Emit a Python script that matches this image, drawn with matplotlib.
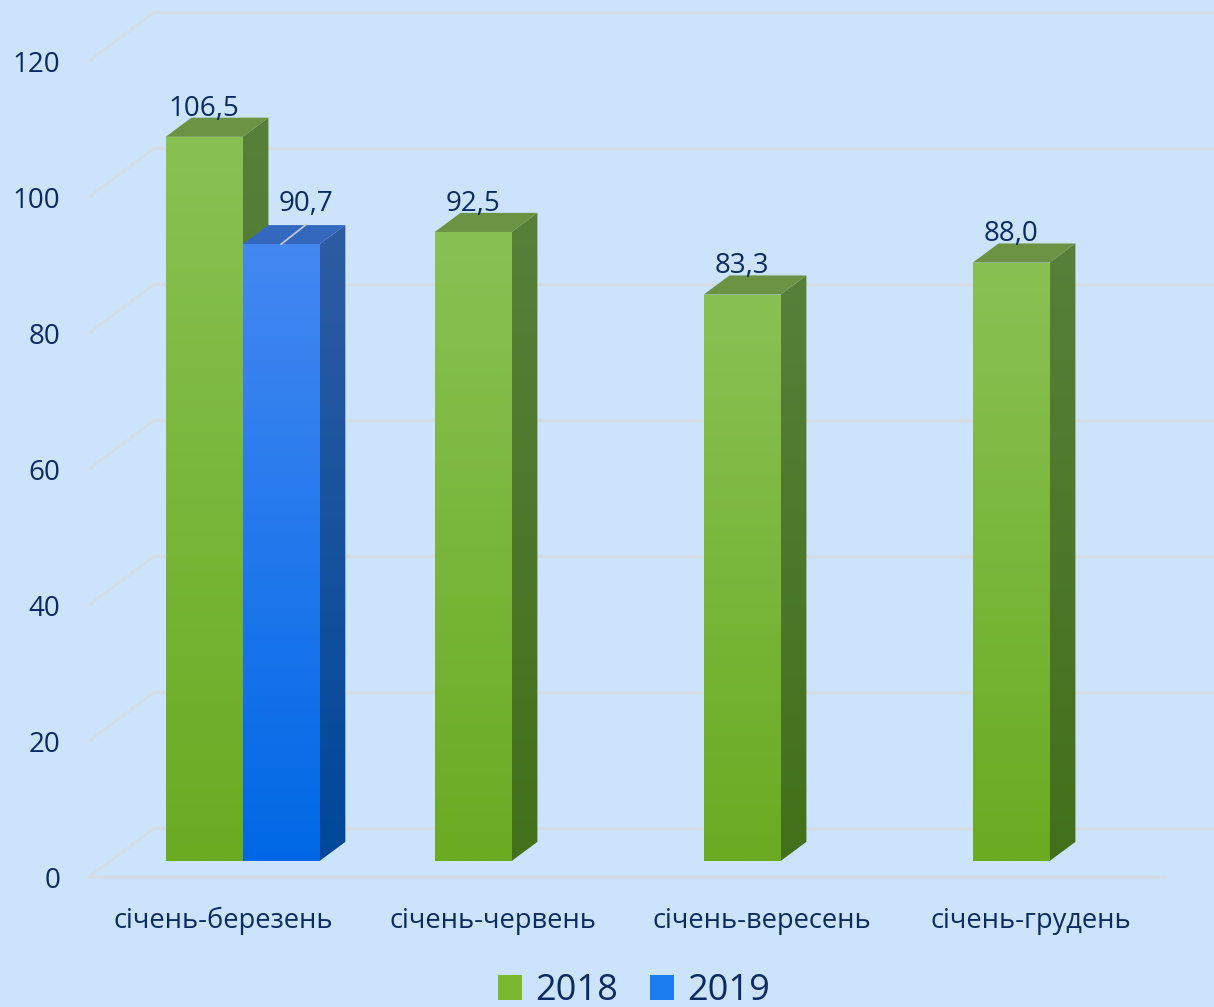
import numpy as np
import matplotlib.pyplot as plt
from matplotlib.patches import Polygon, Patch
from matplotlib.colors import LinearSegmentedColormap

# ---------------- data ----------------
categories = ['січень-березень', 'січень-червень', 'січень-вересень', 'січень-грудень']
values_2018 = [106.5, 92.5, 83.3, 88.0]
values_2019 = [90.7, None, None, None]
labels_2018 = ['106,5', '92,5', '83,3', '88,0']
labels_2019 = ['90,7', None, None, None]
series_names = ['2018', '2019']
yticks = [0, 20, 40, 60, 80, 100, 120]

# ---------------- styling ----------------
BG = '#CBE4FB'
GRID = '#D6DCE4'
TXT = '#0B2A63'
FONT = 'Open Sans'

green = dict(front=('#8AC154', '#6AAB22'), side=('#57803A', '#43701A'), top='#6A9443')
blue = dict(front=('#4488F2', '#0068E6'), side=('#2E5CA2', '#00479A'), top='#3468BE')

W, H = 1214, 1007
fig = plt.figure(figsize=(W / 100, H / 100), dpi=100)
fig.patch.set_facecolor(BG)
ax = fig.add_axes([0, 0, 1, 1])
ax.set_facecolor(BG)

px_cat = 269.0   # pixels per category
px_val = 6.8     # pixels per value unit
x0px, y0px = 89, 877
xlim = (-x0px / px_cat, (W - x0px) / px_cat)
ylim = (-(H - y0px) / px_val, y0px / px_val)

DX = 66 / px_cat     # depth offset (x) of back wall
DY = 49 / px_val     # depth offset (y) of back wall
f0 = 0.327           # bar front depth fraction
fd = 0.39            # bar depth fraction
bw = 0.286           # bar width (category units)
g0 = 0.205           # group offset inside category

# gridlines
for v in yticks:
    ax.plot([0, DX], [v, v + DY], color=GRID, lw=2.2, zorder=1, solid_capstyle='butt')
    ax.plot([DX, xlim[1]], [v + DY, v + DY], color=GRID, lw=2.2, zorder=1, solid_capstyle='butt')
ax.plot([0, len(categories)], [0, 0], color=GRID, lw=2.2, zorder=1)

grad = np.linspace(0, 1, 256).reshape(-1, 1)


def grad_face(pts, c_top, c_bot, z):
    cmap = LinearSegmentedColormap.from_list('g', [c_bot, c_top])
    poly = Polygon(pts, closed=True, facecolor='none', edgecolor='none', zorder=z)
    ax.add_patch(poly)
    xs = [p[0] for p in pts]
    ys = [p[1] for p in pts]
    im = ax.imshow(grad, cmap=cmap, origin='lower', aspect='auto',
                   extent=(min(xs), max(xs), min(ys), max(ys)), zorder=z,
                   interpolation='bilinear')
    im.set_clip_path(poly)


def bar3d(xl, v, style, z):
    base = f0 * DY
    xf = xl + f0 * DX
    top = base + v
    ddx, ddy = fd * DX, fd * DY
    front = [(xf, base), (xf + bw, base), (xf + bw, top), (xf, top)]
    side = [(xf + bw, base), (xf + bw + ddx, base + ddy), (xf + bw + ddx, top + ddy), (xf + bw, top)]
    topf = [(xf, top), (xf + bw, top), (xf + bw + ddx, top + ddy), (xf + ddx, top + ddy)]
    grad_face(side, style['side'][0], style['side'][1], z)
    ax.add_patch(Polygon(topf, closed=True, facecolor=style['top'], edgecolor='none', zorder=z))
    grad_face(front, style['front'][0], style['front'][1], z + 0.1)
    return xf + bw / 2, top


for i, cat in enumerate(categories):
    xl = i + g0
    cx, top = bar3d(xl, values_2018[i], green, 3 + i)
    ax.text(cx, top + fd * DY + 0.3, labels_2018[i], ha='center', va='baseline',
            fontsize=20, color=TXT, family=FONT, zorder=20)
    if values_2019[i] is not None:
        cx2, top2 = bar3d(xl + bw, values_2019[i], blue, 3.5 + i)
        ax.plot([cx2, cx2 + 0.093], [top2, top2 + 2.9], color='#C8CED6', lw=1.2, zorder=20)
        ax.text(cx2 + 0.093, top2 + 4.9, labels_2019[i], ha='center', va='baseline',
                fontsize=20, color=TXT, family=FONT, zorder=20)

# y tick labels
for v in yticks:
    ax.text(-29 / px_cat, v, str(v), ha='right', va='center_baseline', fontsize=20,
            color=TXT, family=FONT)

# category labels
for i, cat in enumerate(categories):
    ax.text(i + 0.5, -44 / px_val, cat, ha='center', va='center', fontsize=19.6,
            color=TXT, family=FONT)

ax.set_xlim(*xlim)
ax.set_ylim(*ylim)
ax.axis('off')

handles = [Patch(facecolor='#7AB832', edgecolor='none'),
           Patch(facecolor='#1A7DF0', edgecolor='none')]
fig.legend(handles, series_names, loc='center', bbox_to_anchor=(634 / W, 1 - 991 / H),
           ncol=2, frameon=False, prop={'family': FONT, 'size': 26},
           labelcolor=TXT, handlelength=0.67, handleheight=0.67,
           handletextpad=0.35, columnspacing=0.9, borderaxespad=0, borderpad=0)

fig.savefig('out.png', dpi=100, facecolor=BG)
